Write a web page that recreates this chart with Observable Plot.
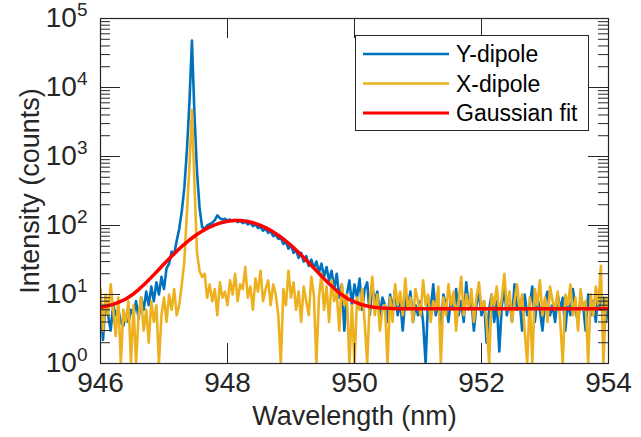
<!DOCTYPE html>
<html><head><meta charset="utf-8">
<script src="https://cdn.jsdelivr.net/npm/d3@7"></script>
<script src="https://cdn.jsdelivr.net/npm/@observablehq/plot@0.6"></script>
<style>
body{margin:0;background:#fff;}
#wrap{position:relative;width:641px;height:437px;font-family:"Liberation Sans",Arial,Helvetica,sans-serif;}
#wrap svg.plot{position:absolute;left:0;top:0;}
#legend{position:absolute;left:355px;top:35px;}
</style></head><body><div id="wrap"></div>
<script>
// Spectrum sampled every 0.04 nm starting at 946 nm
const specStart = 946, specStep = 0.04;
const yDipole = [
 7,2.2,9,5,3,7,5,6,4,3.5,
 5,4,6,5,8,4.5,9,6,11,7,
 13,8,15,10,18,12,24,28,42,38,
 60,90,160,350,1200,6000,48000,4000,600,180,
 95,90,100,105,110,120,140,128,122,125,
 118,122,116,120,112,118,108,114,104,110,
 98,104,92,96,84,90,78,82,70,74,
 64,66,54,58,46,52,40,44,34,40,
 30,36,26,32,24,30,21,28,18,25,
 16,22,12,20,9,14,3,10,16,7,
 14,9,17,6,12,15,5,13,8,11,
 5,9,7,4,10,6,12,5,8,3,
 9,6,11,4,7,5,8,4,1,9,
 6,14,5,8,3,10,7,4,9,6,
 12,5,8,4,15,6,9,3,7,11,
 5,8,2,6,10,4,8,1.5,7,12,
 5,9,4,14,6,8,3,10,5,7,
 13,4,9,6,3,8,11,5,7,4,
 10,6,9,3,8,5,12,6,4,9,
 7,3,10,5,8,4,11,6,9,4,
 7
];
const xDipole = [
 12,3,10,5,14,6,2.5,9,1,6,
 4,8,1,7,1,5,9,3,6,2,
 8,4,7,1,5,9,4,10,6,12,
 5,7,14,30,150,700,4700,400,40,22,
 18,20,9,14,8,12,5,15,9,11,
 7,16,10,20,8,14,12,25,9,13,
 6,17,11,22,8,12,16,7,14,10,
 5,1,12,7,22,9,15,6,11,4,
 13,8,5,18,10,1,9,20,6,13,
 4,16,8,11,3,14,7,10,1,7,
 1,9,6,12,4,1,8,18,5,10,
 3,6,7,1,9,4,14,7,11,5,
 17,6,9,4,12,8,5,16,7,10,
 4,8,6,13,1,9,5,14,7,11,
 3,8,18,5,10,6,12,4,9,15,
 6,8,4,1,10,7,13,5,9,20,
 6,11,4,8,14,6,10,3,1,9,
 1,12,7,16,5,9,4,13,8,6,
 11,4,1,10,7,14,5,9,3,12,
 6,8,1,10,5,13,7,26,1,9,
 6
];
// Gaussian fit sampled every 0.1 nm starting at 946 nm
const fitStart = 946, fitStep = 0.1;
const gaussFit = [
 6.55,6.8,7.2,7.8,8.6,9.9,11.8,14.3,17.7,22.1,
 27.6,34.4,42.4,51.6,61.7,72.2,82.9,93.2,102.3,109.8,
 115.1,117.8,117.8,115.1,109.8,102.3,93.2,82.9,72.2,61.7,
 51.6,42.4,34.4,27.6,22.1,17.7,14.3,11.8,9.9,8.6,
 7.8,7.2,6.8,6.55,6.4,6.3,6.25,
 6.2,6.2,6.2,6.2,6.2,6.2,6.2,6.2,6.2,6.2,
 6.2,6.2,6.2,6.2,6.2,6.2,6.2,6.2,6.2,6.2,
 6.2,6.2,6.2,6.2,6.2,6.2,6.2,6.2,6.2,6.2,
 6.2,6.2,6.2,6.2
];
const xTicks = [946, 948, 950, 952, 954];
const yTicks = [1, 10, 100, 1000, 10000, 100000];
const minorMultipliers = [2,3,4,5,6,7,8,9];
const seriesNames = ["Y-dipole", "X-dipole", "Gaussian fit"];
const seriesColors = ["#0072BD", "#EDB120", "#FF0000"];
const xLabel = "Wavelength (nm)";
const yLabel = "Intensity (counts)";

const yMinor = yTicks.slice(0, -1).flatMap(t => minorMultipliers.map(m => m * t));
const spec = yDipole.map((v, i) => ({w: +(specStart + i * specStep).toFixed(2), yd: v, xd: xDipole[i]}));
const fit = gaussFit.map((v, i) => ({w: +(fitStart + i * fitStep).toFixed(1), v}));

const W = 641, H = 437, mL = 100, mR = 33, mT = 18, mB = 74;
const fw = W - mL - mR, fh = H - mT - mB;
const axisColor = "#262626";
const font = '"Liberation Sans", Arial, Helvetica, sans-serif';

const svg = Plot.plot({
  width: W, height: H,
  marginLeft: mL, marginRight: mR, marginTop: mT, marginBottom: mB,
  style: {fontFamily: font, background: "white", color: axisColor},
  x: {domain: [946, 954]},
  y: {type: "log", domain: [1, 1e5]},
  marks: [
    Plot.line(spec, {x: "w", y: "yd", stroke: seriesColors[0], strokeWidth: 2.6, clip: true}),
    Plot.line(spec, {x: "w", y: "xd", stroke: seriesColors[1], strokeWidth: 2.6, clip: true}),
    Plot.line(fit, {x: "w", y: "v", stroke: seriesColors[2], strokeWidth: 3.5, clip: true}),
    Plot.tickY(yTicks, {y: d => d, insetRight: fw - 20, stroke: axisColor}),
    Plot.tickY(yTicks, {y: d => d, insetLeft: fw - 20, stroke: axisColor}),
    Plot.tickY(yMinor, {y: d => d, insetRight: fw - 10, stroke: axisColor}),
    Plot.tickY(yMinor, {y: d => d, insetLeft: fw - 10, stroke: axisColor}),
    Plot.tickX(xTicks, {x: d => d, insetTop: fh - 20, stroke: axisColor}),
    Plot.tickX(xTicks, {x: d => d, insetBottom: fh - 20, stroke: axisColor}),
    Plot.frame({stroke: axisColor, strokeWidth: 1.2}),
    Plot.axisX({ticks: xTicks, tickSize: 0, tickPadding: 9, fontSize: 28, tickFormat: d => String(d), label: null, fill: axisColor}),
    Plot.axisY({ticks: yTicks, tickSize: 0, tickPadding: 13, fontSize: 28, tickFormat: d => "10^" + Math.round(Math.log10(d)), label: null, fill: axisColor}),
    Plot.text([xLabel], {text: d => d, frameAnchor: "bottom", textAnchor: "middle", dy: 61, fontSize: 27, fill: axisColor}),
    Plot.text([yLabel], {text: d => d, frameAnchor: "left", textAnchor: "middle", dx: -70, rotate: -90, fontSize: 27, fill: axisColor})
  ]
});
svg.classList.add("plot");

// superscript exponents on y tick labels
svg.querySelectorAll('[aria-label="y-axis tick label"] text').forEach(t => {
  const s = t.textContent;
  const m = s.match(/^10\^(-?\d+)$/);
  if (!m) return;
  t.textContent = "10";
  const ts = document.createElementNS("http://www.w3.org/2000/svg", "tspan");
  ts.setAttribute("dy", "-11");
  ts.setAttribute("font-size", "19");
  ts.textContent = m[1];
  t.appendChild(ts);
});

const wrap = document.getElementById("wrap");
wrap.appendChild(svg);

// legend
const ns = "http://www.w3.org/2000/svg";
const lg = document.createElementNS(ns, "svg");
lg.setAttribute("id", "legend");
lg.setAttribute("width", 235);
lg.setAttribute("height", 97);
const rect = document.createElementNS(ns, "rect");
rect.setAttribute("x", 0.5); rect.setAttribute("y", 0.5);
rect.setAttribute("width", 233); rect.setAttribute("height", 95);
rect.setAttribute("fill", "white"); rect.setAttribute("stroke", axisColor);
lg.appendChild(rect);
const rowY = [19, 48.5, 78];
seriesNames.forEach((name, i) => {
  const ln = document.createElementNS(ns, "line");
  ln.setAttribute("x1", 8); ln.setAttribute("x2", 94);
  ln.setAttribute("y1", rowY[i]); ln.setAttribute("y2", rowY[i]);
  ln.setAttribute("stroke", seriesColors[i]);
  ln.setAttribute("stroke-width", i === 2 ? 3 : 2.6);
  lg.appendChild(ln);
  const tx = document.createElementNS(ns, "text");
  tx.setAttribute("x", 101); tx.setAttribute("y", rowY[i]);
  tx.setAttribute("dy", "0.35em");
  tx.setAttribute("font-size", 23);
  tx.setAttribute("font-family", font);
  tx.setAttribute("fill", "#000");
  tx.textContent = name;
  lg.appendChild(tx);
});
wrap.appendChild(lg);
</script>
</body></html>
